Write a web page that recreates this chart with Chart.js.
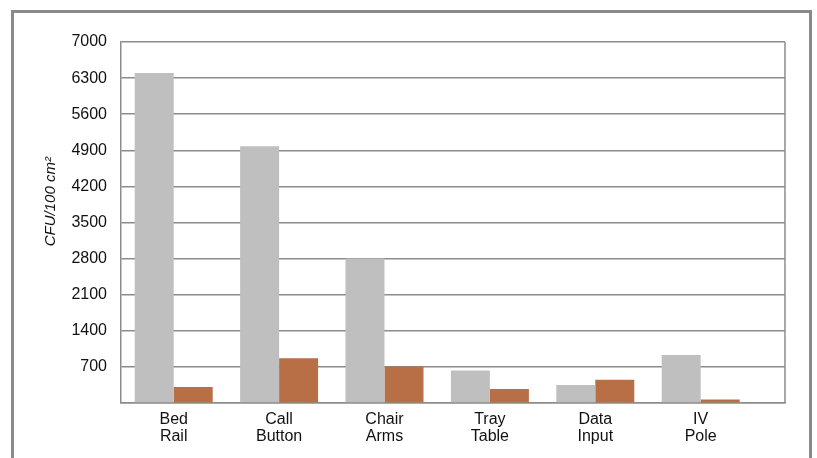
<!DOCTYPE html>
<html>
<head>
<meta charset="utf-8">
<script src="https://cdn.jsdelivr.net/npm/chart.js@4"></script>
<style>
  body { margin: 0; background: #fff; }
  #frame { position: absolute; left: 11px; top: 10px; width: 795px; height: 470px; border: 3px solid #8a8a8a; }
  #myChart { position: absolute; left: 0; top: 0; }
</style>
</head>
<body>
<div id="frame"></div>
<canvas id="myChart" width="817" height="458"></canvas>
<script>
Chart.defaults.color = '#111';
Chart.defaults.font.family = '"Liberation Sans", Arial, sans-serif';
Chart.defaults.font.size = 16;

// data
const places = [['Bed', 'Rail'], ['Call', 'Button'], ['Chair', 'Arms'], ['Tray', 'Table'], ['Data', 'Input'], ['IV', 'Pole']];
const grayVals = [6400, 4980, 2800, 630, 350, 930];
const orangeVals = [310, 870, 710, 270, 450, 70];
const yTicks = [700, 1400, 2100, 2800, 3500, 4200, 4900, 5600, 6300, 7000];

// right edge of plot box
const boxLine = {
    id: 'boxLine',
    afterDraw(chart) {
        const a = chart.chartArea;
        const c = chart.ctx;
        c.save();
        c.strokeStyle = '#8c8c8c';
        c.lineWidth = 1.5;
        c.beginPath();
        c.moveTo(a.right, a.top);
        c.lineTo(a.right, a.bottom);
        c.stroke();
        c.restore();
    }
};

const toPoints = (vals) => vals.map((v, i) => ({ x: i, y: v }));

var ctx = document.getElementById('myChart').getContext('2d');
new Chart(ctx, {
    type: 'bar',
    data: {
        datasets: [{
            data: toPoints(grayVals),
            backgroundColor: '#bfbfbf',
            categoryPercentage: 0.74,
            barPercentage: 1
        },
        {
            data: toPoints(orangeVals),
            backgroundColor: '#b86f45',
            categoryPercentage: 0.74,
            barPercentage: 1
        }]
    },
    plugins: [boxLine],
    options: {
        responsive: false,
        animation: false,
        layout: { padding: { left: 30, right: 32, top: 42, bottom: 0 } },
        plugins: {
            legend: { display: false },
            tooltip: { enabled: false }
        },
        scales: {
            x: {
                type: 'linear',
                min: -0.5,
                max: 5.8,
                offset: false,
                afterBuildTicks: (s) => { s.ticks = places.map((p, i) => ({ value: i })); },
                grid: { display: false },
                border: { color: '#8c8c8c', width: 1.5 },
                ticks: {
                    padding: 0,
                    font: { size: 16, lineHeight: 1.05 },
                    maxRotation: 0,
                    autoSkip: false,
                    callback: (v) => places[v]
                },
                afterFit: (s) => { s.height = 55; }
            },
            y: {
                min: 0,
                max: 7000,
                afterBuildTicks: (s) => { s.ticks = [0].concat(yTicks).map(v => ({ value: v })); },
                grid: { color: '#8c8c8c', lineWidth: 1.5, drawTicks: false },
                border: { color: '#8c8c8c', width: 1.5 },
                ticks: {
                    padding: 14,
                    font: { size: 16 },
                    callback: (v) => v === 0 ? '' : v
                },
                title: {
                    display: true,
                    // leading spaces nudge the label up a little, as in the original
                    text: '\u00a0'.repeat(10) + 'CFU/100 cm²',
                    font: { size: 15, style: 'italic' },
                    padding: { top: 12, bottom: 0 }
                },
                afterFit: (s) => { s.width = 91; }
            }
        }
    }
});
</script>
</body>
</html>
